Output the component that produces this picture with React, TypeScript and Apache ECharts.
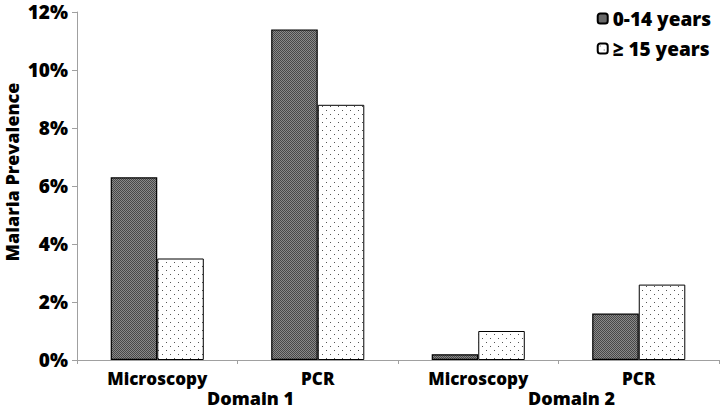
import React, { useEffect, useRef } from "react";
import * as echarts from "echarts";

const categories = ["Microscopy", "PCR", "Microscopy", "PCR"];
const domains = ["Domain 1", "Domain 2"];
const youngValues = [6.3, 11.4, 0.2, 1.6];
const adultValues = [3.5, 8.8, 1.0, 2.6];
const seriesNames = ["0-14 years", "\u2265 15 years"];
const yTicks = { min: 0, max: 12, interval: 2 };

function makeDarkPattern(): HTMLCanvasElement {
  const c = document.createElement("canvas");
  c.width = 4;
  c.height = 4;
  const ctx = c.getContext("2d")!;
  for (let y = 0; y < 4; y++) {
    for (let x = 0; x < 4; x++) {
      ctx.fillStyle = (x + y) % 2 === 0 ? "#484848" : "#8a8a8a";
      ctx.fillRect(x, y, 1, 1);
    }
  }
  return c;
}

function makeDotPattern(): HTMLCanvasElement {
  const c = document.createElement("canvas");
  c.width = 8;
  c.height = 8;
  const ctx = c.getContext("2d")!;
  ctx.fillStyle = "#ffffff";
  ctx.fillRect(0, 0, 8, 8);
  ctx.fillStyle = "#555555";
  ctx.fillRect(2, 2, 1, 1);
  ctx.fillRect(6, 6, 1, 1);
  return c;
}

export default function App() {
  const ref = useRef<HTMLDivElement>(null);
  useEffect(() => {
    if (!ref.current) return;
    const chart = echarts.init(ref.current, undefined, { renderer: "svg" });
    const font = "'Open Sans', 'DejaVu Sans', sans-serif";
    const W = 800;
    const dark = { image: makeDarkPattern(), repeat: "repeat" };
    const dots = { image: makeDotPattern(), repeat: "repeat" };
    chart.setOption({
      animation: false,
      backgroundColor: "#ffffff",
      textStyle: { fontFamily: font },
      grid: { left: 77, right: 1, top: 12, bottom: 50, containLabel: false },
      legend: {
        orient: "vertical",
        right: 4,
        top: 4,
        itemWidth: 10,
        itemHeight: 10,
        itemGap: 11,
        data: seriesNames,
        textStyle: { fontSize: 19, fontWeight: W, color: "#000", fontFamily: font },
      },
      xAxis: [
        {
          type: "category",
          data: categories,
          position: "bottom",
          axisLine: { lineStyle: { color: "#a0a0a0", width: 1 } },
          axisTick: { show: true, length: 4, lineStyle: { color: "#a0a0a0" } },
          axisLabel: {
            fontSize: 17,
            fontWeight: W,
            color: "#000",
            margin: 10,
            fontFamily: font,
            interval: 0,
          },
        },
        {
          type: "category",
          data: domains,
          position: "bottom",
          offset: 28,
          axisLine: { show: false },
          axisTick: { show: false },
          axisLabel: {
            fontSize: 18,
            lineHeight: 20,
            fontWeight: W,
            color: "#000",
            margin: 0,
            padding: [0, 0, 0, 26],
            fontFamily: font,
          },
        },
      ],
      yAxis: {
        type: "value",
        min: yTicks.min,
        max: yTicks.max,
        interval: yTicks.interval,
        axisLine: { show: true, lineStyle: { color: "#a0a0a0" } },
        axisTick: { show: true, length: 5, lineStyle: { color: "#a0a0a0" } },
        splitLine: { show: false },
        axisLabel: {
          formatter: "{value}%",
          fontSize: 19,
          fontWeight: W,
          color: "#000",
          margin: 9,
          fontFamily: font,
        },
      },
      graphic: [
        {
          type: "text",
          x: 12,
          y: 172,
          rotation: Math.PI / 2,
          style: {
            text: "Malaria Prevalence",
            fill: "#000",
            font: `800 18px 'Open Sans', 'DejaVu Sans', sans-serif`,
            align: "center",
            verticalAlign: "middle",
          },
        },
      ],
      series: [
        {
          name: seriesNames[0],
          type: "bar",
          xAxisIndex: 0,
          data: youngValues,
          barGap: "0%",
          barCategoryGap: "42%",
          itemStyle: { color: dark, borderColor: "#000", borderWidth: 1.2 },
        },
        {
          name: seriesNames[1],
          type: "bar",
          xAxisIndex: 0,
          data: adultValues,
          barGap: "0%",
          barCategoryGap: "42%",
          itemStyle: { color: dots, borderColor: "#000", borderWidth: 1 },
        },
      ],
    });
    return () => chart.dispose();
  }, []);
  return <div ref={ref} style={{ width: 720, height: 410, position: "absolute", left: 0, top: 0 }} />;
}
